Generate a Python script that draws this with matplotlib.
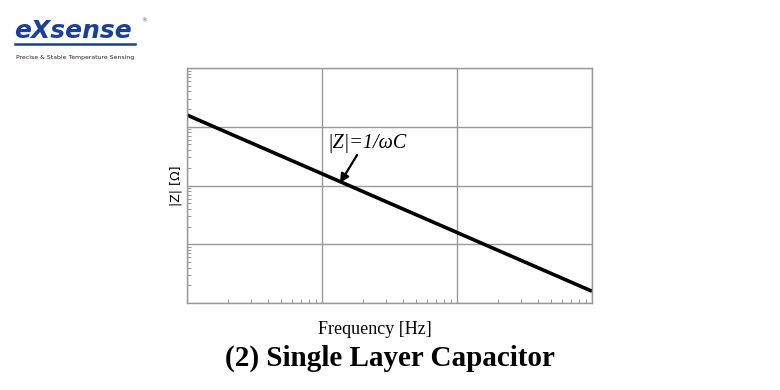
import numpy as np
import matplotlib.pyplot as plt
from matplotlib.ticker import LogLocator, NullFormatter

# data: |Z| falls with slope -1 on log-log axes
freq = [1, 1000]
impedance = [10 ** 3.2, 10 ** 0.2]
arrow_f = 13.6

fig = plt.figure(figsize=(7.8, 3.9), dpi=100)
ax = fig.add_axes([187 / 780, 1 - 303 / 390, 405 / 780, 235 / 390])

ax.set_xscale('log')
ax.set_yscale('log')
ax.set_xlim(1, 1000)
ax.set_ylim(1, 10000)

ax.plot(freq, impedance, color='black', lw=2.6, solid_capstyle='butt')

ax.xaxis.set_major_locator(LogLocator(base=10, numticks=10))
ax.yaxis.set_major_locator(LogLocator(base=10, numticks=10))
ax.xaxis.set_minor_locator(LogLocator(base=10, subs=np.arange(2, 10), numticks=10))
ax.yaxis.set_minor_locator(LogLocator(base=10, subs=np.arange(2, 10), numticks=10))
ax.xaxis.set_major_formatter(NullFormatter())
ax.yaxis.set_major_formatter(NullFormatter())
ax.xaxis.set_minor_formatter(NullFormatter())
ax.yaxis.set_minor_formatter(NullFormatter())
ax.tick_params(which='both', direction='in', color='#888888')
ax.tick_params(which='major', length=0)
ax.tick_params(which='minor', length=3, width=0.6)
ax.grid(True, which='major', color='#999999', lw=1)
for s in ax.spines.values():
    s.set_color('#999999')
    s.set_linewidth(1)

arrow_z = impedance[0] / arrow_f
ax.text(10.9, 527, '|Z|=1/ωC', fontsize=14.5, family='Liberation Serif', style='italic',
        va='center', ha='left')
ax.annotate('', xy=(arrow_f, arrow_z * 0.95), xytext=(18.2, 331),
            arrowprops=dict(arrowstyle='-|>', color='black', lw=1.6,
                            mutation_scale=13, shrinkA=0, shrinkB=0))

ax.set_xlabel('Frequency [Hz]', family='Liberation Serif', fontsize=13)
ax.xaxis.set_label_coords((375 - 187) / 405, -0.077, transform=ax.transAxes)
ax.xaxis.label.set_va('top')
ax.set_ylabel('|Z| [Ω]', family='DejaVu Sans', fontsize=9, labelpad=0)

fig.text(390 / 780, 1 - 358 / 390, '(2) Single Layer Capacitor', ha='center', va='center',
         family='Liberation Serif', weight='bold', fontsize=21)

# logo
fig.text(14 / 780, 1 - 31 / 390, 'eXsense', color='#1c3f99', fontsize=18,
         weight='bold', style='italic', family='DejaVu Sans', va='center')
fig.add_artist(plt.Line2D([15 / 780, 135 / 780], [1 - 44 / 390, 1 - 44 / 390],
                          color='#1c3f99', lw=1.8))
fig.text(141 / 780, 1 - 21 / 390, '®', fontsize=4, color='#555555', va='center')
fig.text(16 / 780, 1 - 57 / 390, 'Precise & Stable Temperature Sensing', fontsize=4.4,
         color='#222222', va='center')

fig.savefig('out.png', dpi=100)
